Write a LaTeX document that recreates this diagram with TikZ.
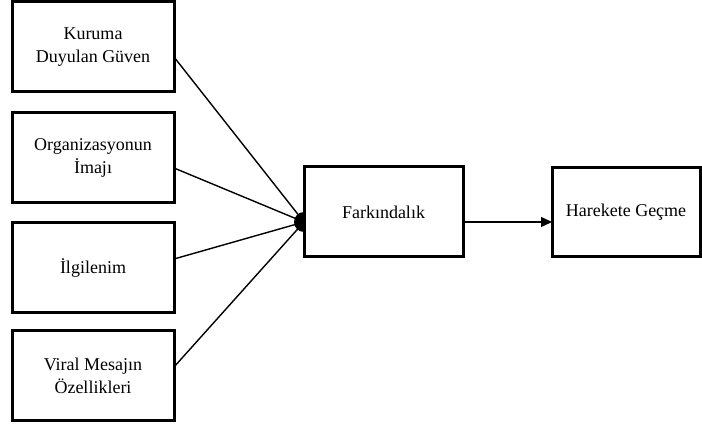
\documentclass[tikz,border=0pt]{standalone}
\usepackage{fontspec}
\setmainfont{Liberation Serif}
\usetikzlibrary{arrows.meta}
\begin{document}
\begin{tikzpicture}[x=1pt,y=-1pt,
  box/.style={draw,line width=3pt,outer sep=0pt,align=center,inner sep=0pt,
    font=\fontsize{18}{23}\selectfont},
  src/.style={box,minimum width=162pt,minimum height=90pt},
  conn/.style={line width=1.4pt},
  arr/.style={line width=1.4pt,-{Triangle[length=11pt,width=10pt]}}]
\useasboundingbox (0,0) rectangle (702,430);
\node[src] (b1) at (93,47) {Kuruma\\Duyulan Güven};
\node[src] (b2) at (93,158) {Organizasyonun\\İmajı};
\node[src] (b3) at (93,268) {İlgilenim};
\node[src] (b4) at (93,376) {Viral Mesajın\\Özellikleri};
\node[box,minimum width=159pt,minimum height=90pt] (f) at (383.5,212) {Farkındalık};
\node[box,minimum width=148pt,minimum height=89pt] (h) at (626,212.5) {Harekete Geçme};
\coordinate (conv) at ([yshift=-10pt]f.west);
\draw[conn] ([yshift=-10pt]b1.east) -- (conv);
\draw[conn] ([yshift=-10pt]b2.east) -- (conv);
\draw[conn] ([yshift=9pt]b3.east) -- (conv);
\draw[conn] ([yshift=9pt]b4.east) -- (conv);
\fill ([yshift=10pt]conv) arc[start angle=90,end angle=270,radius=10pt] -- cycle;
\coordinate (fa) at ([yshift=-10pt]f.east);
\draw[arr] (fa) -- (fa -| h.west);
\end{tikzpicture}
\end{document}
